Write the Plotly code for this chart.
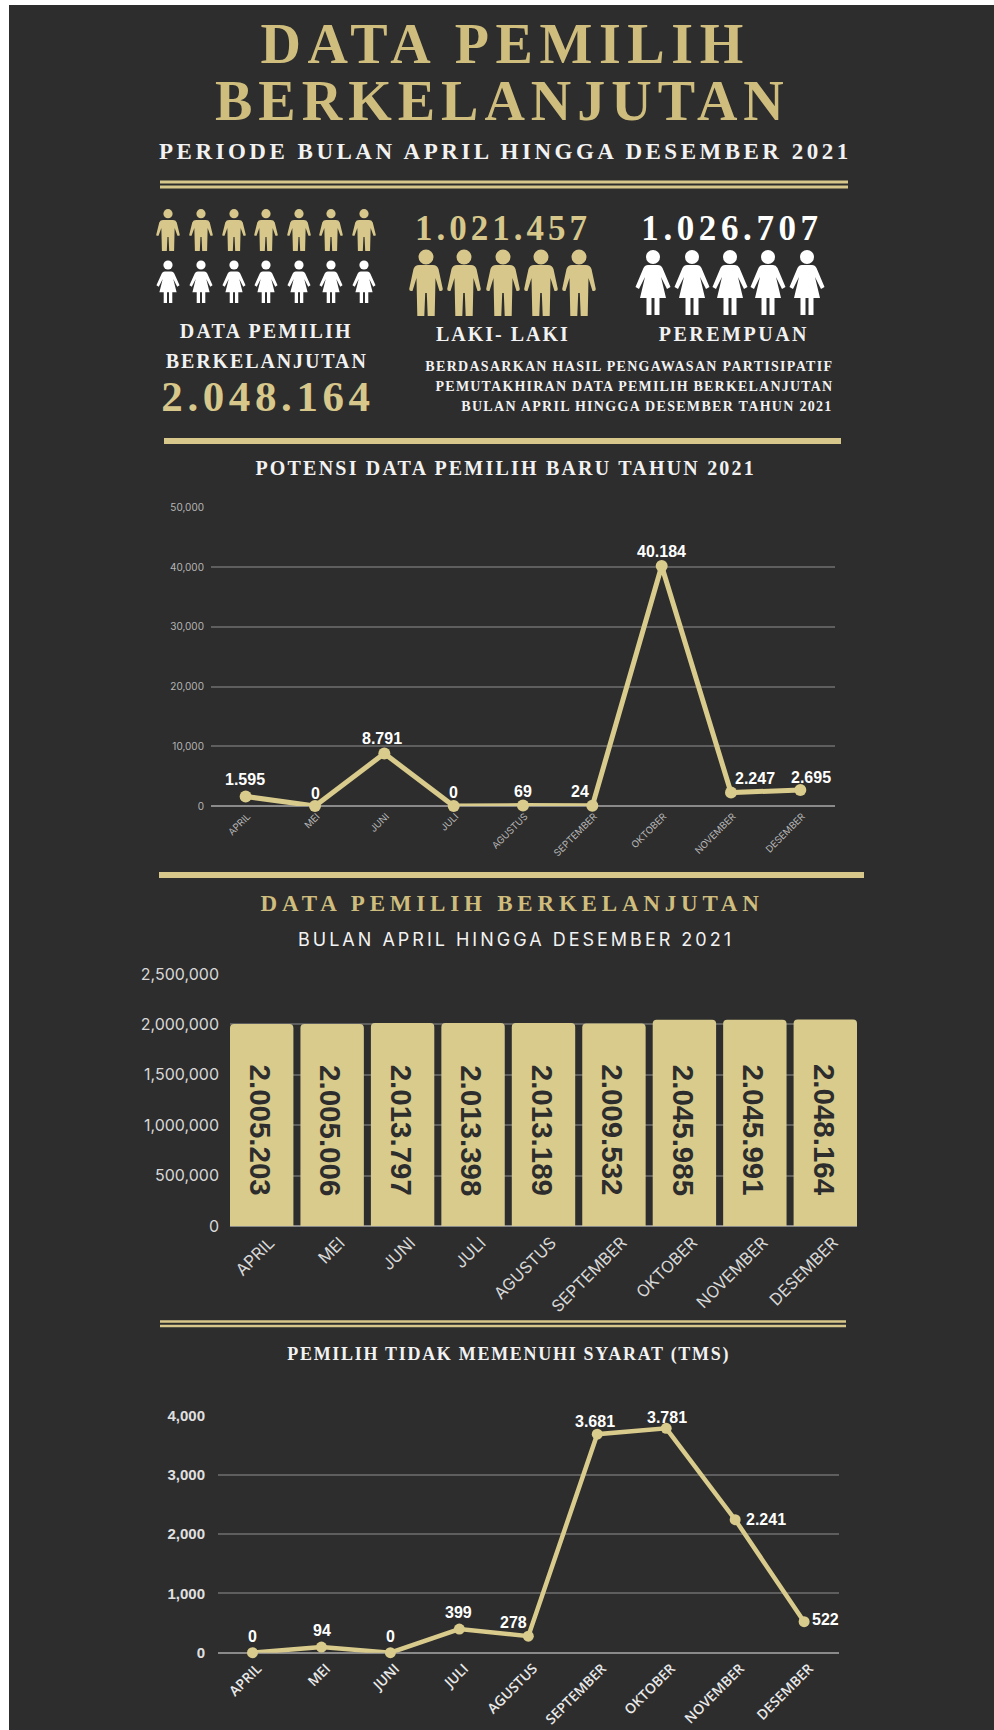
import plotly.graph_objects as go

# Monthly series
months = ["APRIL", "MEI", "JUNI", "JULI", "AGUSTUS", "SEPTEMBER", "OKTOBER", "NOVEMBER", "DESEMBER"]
new_voters = [1595, 0, 8791, 0, 69, 24, 40184, 2247, 2695]
continuous_voters = [2005203, 2005006, 2013797, 2013398, 2013189, 2009532, 2045985, 2045991, 2048164]
ineligible_voters = [0, 94, 0, 399, 278, 3681, 3781, 2241, 522]

# Summary figures
total_voters = "2.048.164"
male_voters = "1.021.457"
female_voters = "1.026.707"

W, H = 994, 1730
BG = "#2d2d2d"
GOLD = "#d9cb8c"
TITLE_GOLD = "#cfbd7e"
ICON_GOLD = "#d7c78b"
WHITE = "#f2f2f2"
SERIF = "Liberation Serif"
SANS = "Liberation Sans"
GEO = "Inter"


def fx(x):
    return x / W


def fy(y):
    return 1 - y / H


def dotted(v):
    return f"{v:,}".replace(",", ".")


shapes = [dict(type="rect", xref="paper", yref="paper", x0=fx(9), x1=1, y0=0, y1=fy(5),
               fillcolor=BG, line_width=0, layer="below")]
annotations = []


def rule(x0, x1, y, thick):
    shapes.append(dict(type="rect", xref="paper", yref="paper", x0=fx(x0), x1=fx(x1),
                       y0=fy(y - thick / 2), y1=fy(y + thick / 2), fillcolor=ICON_GOLD, line_width=0))


def label(text, x, y, size, color=WHITE, family=SERIF, weight="bold"):
    annotations.append(dict(text=text, xref="paper", yref="paper", x=fx(x), y=fy(y),
                            xanchor="center", yanchor="middle", showarrow=False,
                            font=dict(family=family, size=size, color=color, weight=weight)))


# Pictogram outlines, relative to the shoulder centre
MAN = [("M", -7, 0), ("L", 7, 0), ("Q", 11, 0, 12.5, 4), ("L", 16.8, 24), ("Q", 16.8, 26, 15, 26),
       ("L", 13.5, 26), ("L", 9.5, 13), ("L", 8.7, 51), ("L", 1.7, 51), ("L", 0.8, 28), ("L", -0.8, 28),
       ("L", -1.7, 51), ("L", -8.7, 51), ("L", -9.5, 13), ("L", -13.5, 26), ("L", -15, 26),
       ("Q", -16.8, 26, -16.8, 24), ("L", -12.5, 4), ("Q", -11, 0, -7, 0)]
WOMAN = [("M", -5, 0), ("L", 5, 0), ("Q", 8, 0, 9.5, 3), ("L", 17.5, 22), ("L", 14, 24), ("L", 8, 12),
         ("L", 13, 33), ("L", 6.5, 33), ("L", 6.5, 50), ("L", 1.5, 50), ("L", 1.5, 33), ("L", -1.5, 33),
         ("L", -1.5, 50), ("L", -6.5, 50), ("L", -6.5, 33), ("L", -13, 33), ("L", -8, 12), ("L", -14, 24),
         ("L", -17.5, 22), ("L", -9.5, 3), ("Q", -8, 0, -5, 0)]


def person(outline, cx, top, sx, sy, head_y, r, color):
    parts = []
    for seg in outline:
        pts = seg[1:]
        coords = " ".join(f"{fx(cx + pts[i] * sx):.5f},{fy(top + pts[i + 1] * sy):.5f}"
                          for i in range(0, len(pts), 2))
        parts.append(f"{seg[0]}{coords}")
    shapes.append(dict(type="path", xref="paper", yref="paper", path=" ".join(parts) + " Z",
                       fillcolor=color, line_width=0))
    shapes.append(dict(type="circle", xref="paper", yref="paper", x0=fx(cx - r), x1=fx(cx + r),
                       y0=fy(head_y + r), y1=fy(head_y - r), fillcolor=color, line_width=0))


for cx in [168, 201, 234, 266, 299, 331, 364]:
    person(MAN, cx, 220, 0.7, 0.61, 213.7, 4.6, ICON_GOLD)
    person(WOMAN, cx, 271.5, 0.66, 0.63, 265, 4.6, "#ffffff")
for cx in [426, 464, 503, 541, 579]:
    person(MAN, cx, 265, 1, 1, 257, 7.5, ICON_GOLD)
for cx in [653, 692, 730, 768, 807]:
    person(WOMAN, cx, 265, 1, 1, 257, 7, "#ffffff")

# Header block
label("DATA PEMILIH", 505, 44, 56, TITLE_GOLD)
label("BERKELANJUTAN", 502, 101, 56, TITLE_GOLD)
label("PERIODE BULAN APRIL HINGGA DESEMBER 2021", 505, 151, 23)
rule(160, 848, 182, 3)
rule(160, 848, 187, 3)
label(male_voters, 503.5, 229, 35, ICON_GOLD)
label(female_voters, 732, 229, 35, "#ffffff")
label("LAKI- LAKI", 503, 334, 20)
label("PEREMPUAN", 734, 334, 20)
label("DATA PEMILIH", 266, 331, 20)
label("BERKELANJUTAN", 267, 361, 20)
label(total_voters, 268, 396, 43, ICON_GOLD)
label("BERDASARKAN HASIL PENGAWASAN PARTISIPATIF", 629, 367, 14)
label("PEMUTAKHIRAN DATA PEMILIH BERKELANJUTAN", 634, 387, 14)
label("BULAN APRIL HINGGA DESEMBER TAHUN 2021", 646.5, 407, 14)
rule(164, 841, 441, 6)

# Section headings
label("POTENSI DATA PEMILIH BARU TAHUN 2021", 505, 468, 20)
rule(159, 864, 875, 6)
label("DATA PEMILIH BERKELANJUTAN", 512.5, 903, 23, TITLE_GOLD)
label("BULAN APRIL HINGGA DESEMBER 2021", 516, 939, 18, WHITE, GEO, "normal")
rule(160, 846, 1321.5, 2.5)
rule(160, 846, 1326, 2.5)
label("PEMILIH TIDAK MEMENUHI SYARAT (TMS)", 508, 1354.5, 18)

fig = go.Figure()

fig.add_trace(go.Scatter(x=months, y=new_voters, mode="lines+markers", xaxis="x", yaxis="y",
                         line=dict(color=GOLD, width=5), marker=dict(color=GOLD, size=12),
                         cliponaxis=False, hoverinfo="skip"))
fig.add_trace(go.Bar(x=months, y=continuous_voters, xaxis="x2", yaxis="y2",
                     marker=dict(color=GOLD, line_width=0), hoverinfo="skip"))
fig.add_trace(go.Scatter(x=months, y=ineligible_voters, mode="lines+markers", xaxis="x3", yaxis="y3",
                         line=dict(color=GOLD, width=4.5), marker=dict(color=GOLD, size=11),
                         cliponaxis=False, hoverinfo="skip"))

# Value labels, nudged off the line so they stay readable
offsets_new = [(-1, 17), (0, 13), (-2, 15), (0, 14), (0, 14), (-12, 14), (0, 14), (24, 14), (11, 12)]
offsets_ineligible = [(0, 16), (1, 17), (0, 16), (-1, 17), (-15, 14), (-2, 13), (1, 11), (31, 0), (21, 2)]
for axis_y, axis_x, values, offsets in [("y", "x", new_voters, offsets_new),
                                        ("y3", "x3", ineligible_voters, offsets_ineligible)]:
    for m, v, (dx, dy) in zip(months, values, offsets):
        annotations.append(dict(text=dotted(v), xref=axis_x, yref=axis_y, x=m, y=v, xshift=dx, yshift=dy,
                                showarrow=False, xanchor="center", yanchor="middle",
                                font=dict(family=SANS, size=16, color="#ffffff", weight="bold")))

for m, v in zip(months, continuous_voters):
    annotations.append(dict(text=dotted(v), xref="x2", yref="y2", x=m, y=950000, textangle=90, xshift=-1,
                            showarrow=False, xanchor="center", yanchor="middle",
                            font=dict(family=SANS, size=29.5, color=BG, weight="bold")))


def x_axis(x0, x1, anchor, size, color, family, weight="normal", standoff=6, shift=0, pad=0.5):
    return dict(domain=[fx(x0), fx(x1)], anchor=anchor, type="category", categoryorder="array",
                categoryarray=months, range=[-pad, 8 + pad], tickangle=-45, showgrid=False, ticks="",
                showline=False, zeroline=False, automargin=False, ticklabelstandoff=standoff,
                ticklabelshift=shift,
                tickfont=dict(family=family, size=size, color=color, weight=weight))


def y_axis(y_top, y_bottom, anchor, top, step, size, color, family, weight="normal", standoff=6):
    return dict(domain=[fy(y_bottom), fy(y_top)], anchor=anchor, range=[0, top], dtick=step, tick0=0,
                tickformat=",", showgrid=True, gridcolor="#5e5e5e", gridwidth=1.5, zeroline=True,
                zerolinecolor="#8a8a8a", zerolinewidth=1.5, ticks="", ticklabelstandoff=standoff,
                automargin=False, tickfont=dict(family=family, size=size, color=color, weight=weight))


fig.update_layout(
    width=W, height=H, margin=dict(l=0, r=0, t=0, b=0), autosize=False,
    paper_bgcolor="#ffffff", plot_bgcolor="rgba(0,0,0,0)", showlegend=False, bargap=0.1,
    barcornerradius=4, shapes=shapes, annotations=annotations,
    xaxis=x_axis(211, 835, "y", 9.5, "#b5b5b5", GEO, standoff=2, shift=2),
    yaxis=y_axis(507.3, 806, "x", 50000, 10000, 10, "#b5b5b5", GEO),
    xaxis2=x_axis(230, 857, "y2", 16.5, "#d8d8d8", GEO, standoff=3, shift=8, pad=0.45),
    yaxis2=y_axis(974, 1226, "x2", 2500000, 500000, 16, "#d8d8d8", GEO, standoff=10),
    xaxis3=x_axis(218, 838.6, "y3", 14, "#e8e8e8", "Open Sans", 600, standoff=4, shift=5),
    yaxis3=y_axis(1415.3, 1652.7, "x3", 4000, 1000, 15, "#e0e0e0", SANS, "bold", standoff=12),
)

# Wide tracking on the serif headings, keyed by font size and text
tracking_js = """
var tracking = {
  "56|DATA PEMILIH": 6.6, "56|BERKELANJUTAN": 6,
  "23|PERIODE BULAN APRIL HINGGA DESEMBER 2021": 3.5,
  "35|1.021.457": 4, "35|1.026.707": 4.6, "43|2.048.164": 4.6,
  "20|LAKI- LAKI": 2, "20|PEREMPUAN": 2.5,
  "20|DATA PEMILIH": 2.2, "20|BERKELANJUTAN": 1.9,
  "14|BERDASARKAN HASIL PENGAWASAN PARTISIPATIF": 1.3,
  "14|PEMUTAKHIRAN DATA PEMILIH BERKELANJUTAN": 1.2,
  "14|BULAN APRIL HINGGA DESEMBER TAHUN 2021": 1.3,
  "20|POTENSI DATA PEMILIH BARU TAHUN 2021": 2.2,
  "23|DATA PEMILIH BERKELANJUTAN": 4.8,
  "18|BULAN APRIL HINGGA DESEMBER 2021": 3,
  "18|PEMILIH TIDAK MEMENUHI SYARAT (TMS)": 1.7
};
document.querySelectorAll('.annotation-text').forEach(function (t) {
  var s = tracking[parseFloat(t.style.fontSize) + '|' + t.textContent];
  if (s !== undefined) { t.style.letterSpacing = s + 'px'; }
});
"""

fig.write_html("out.html", config={"displayModeBar": False}, post_script=tracking_js)
